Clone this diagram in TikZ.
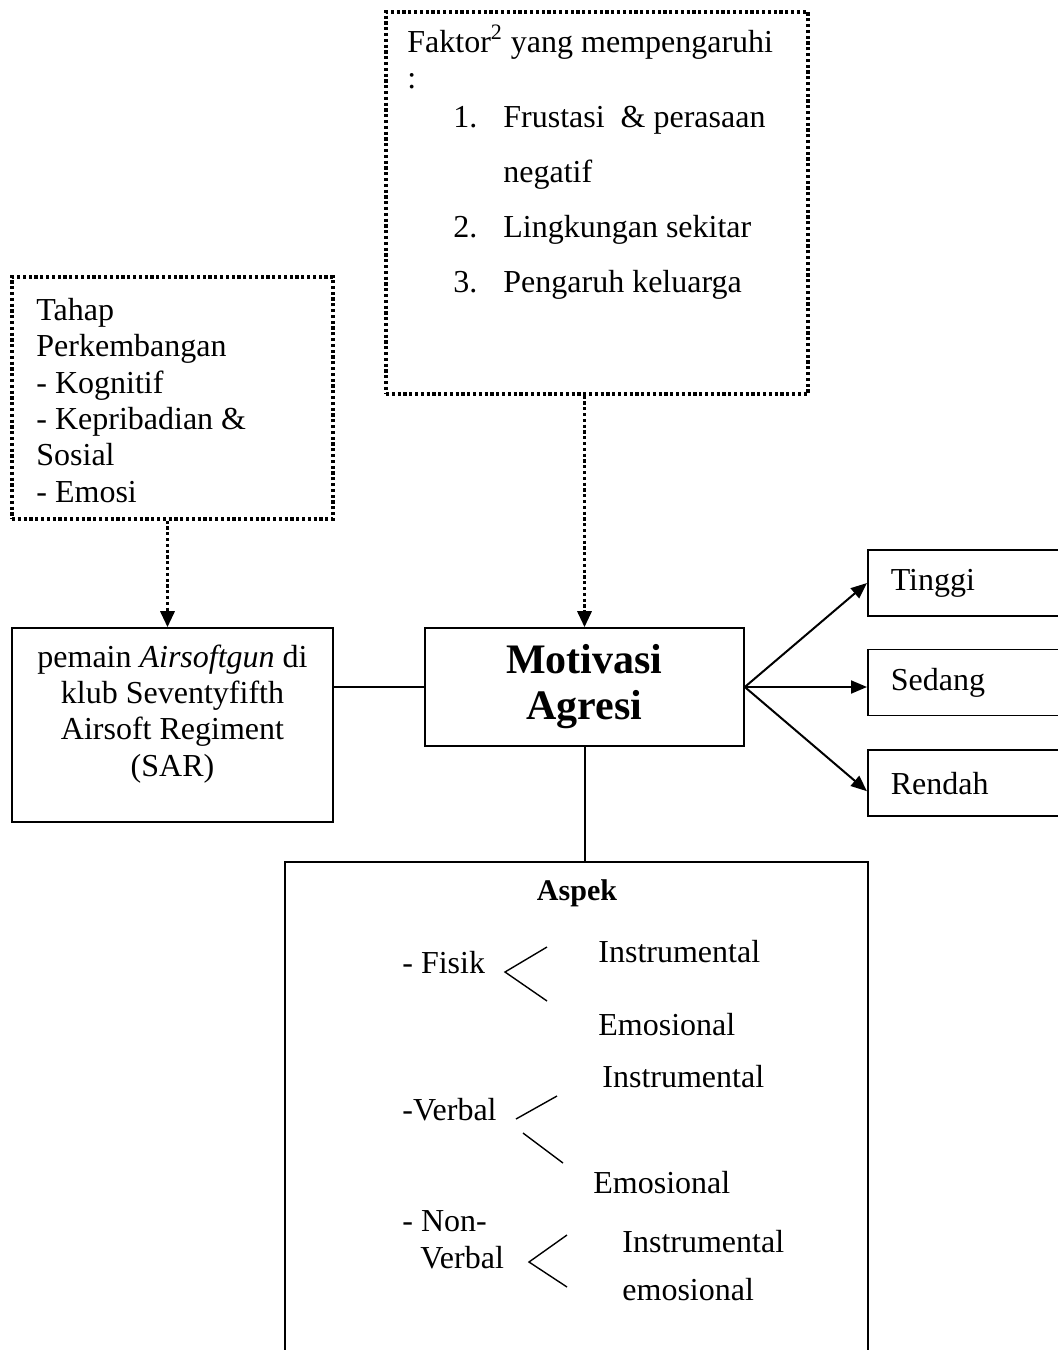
\documentclass[tikz,border=0pt]{standalone}
\usepackage{fontspec}
\setmainfont{Liberation Serif}
\usetikzlibrary{arrows.meta, positioning, calc}
\tikzset{
  boxline/.style={draw, line width=0.8pt, inner sep=0pt},
  dotbox/.style={draw, line width=1.6pt, dash pattern=on 1.6pt off 1.3pt, inner sep=0pt},
  txt/.style={font=\fontsize{16}{18.15}\selectfont, inner sep=0pt, align=left, anchor=base west},
  lvlbox/.style={boxline, anchor=west, text width=80pt, inner xsep=11.5pt, align=left,
    minimum height=33pt, font=\fontsize{16}{18.15}\selectfont},
  dotarrow/.style={-{Triangle[length=8pt, width=7pt]}, line width=1.6pt, dash pattern=on 1.6pt off 1.3pt},
  outarrow/.style={-{Triangle[length=8pt, width=6.5pt]}, line width=1pt},
  link/.style={line width=1pt},
  fork/.style={line width=0.7pt}
}
\begin{document}
\begin{tikzpicture}[x=0.5pt, y=-0.5pt]
  \useasboundingbox (0,0) rectangle (1057,1350);
  \node[dotbox, minimum width=211pt, minimum height=191pt] (faktor) at (597,203) {};
  \node[txt] (faktortxt) at (407,292) {Faktor\textsuperscript{\fontsize{11}{11}\selectfont 2} yang mempengaruhi\\:\\[1.3pt]
    \hspace*{23pt}\makebox[25pt][l]{1.}Frustasi\ \ \& perasaan\\[9.3pt]
    \hspace*{48pt}negatif\\[9.3pt]
    \hspace*{23pt}\makebox[25pt][l]{2.}Lingkungan sekitar\\[9.3pt]
    \hspace*{23pt}\makebox[25pt][l]{3.}Pengaruh keluarga};
  \node[dotbox, minimum width=160.5pt, minimum height=121pt] (tahap) at (172.5,398) {};
  \node[txt] (tahaptxt) at (36,502) {Tahap\\Perkembangan\\- Kognitif\\- Kepribadian \&\\Sosial\\- Emosi};
  \node[boxline, minimum width=160.5pt, minimum height=97pt] (pemain) at (172.5,725) {};
  \node[txt, align=center, anchor=base] (pemaintxt) at (172.5,776)
    {pemain \textit{Airsoftgun} di\\klub Seventyfifth\\Airsoft Regiment\\(SAR)};
  \node[boxline, minimum width=159.5pt, minimum height=59pt, align=center,
    font=\fontsize{21}{23}\selectfont\bfseries] (motivasi) at (584.5,687) {Motivasi\\Agresi};
  \node[lvlbox] (tinggi) at (867,583) {Tinggi};
  \node[lvlbox, below=16pt of tinggi] (sedang) {Sedang};
  \node[lvlbox, below=16.5pt of sedang] (rendah) {Rendah};
  \node[boxline, anchor=north, minimum width=291.5pt, minimum height=260pt] (aspek) at (576.5,861) {};
  \draw[dotarrow] ([xshift=-2.5pt]tahap.south) -- ([xshift=-2.5pt]pemain.north);
  \draw[dotarrow] (faktor.south -| motivasi.north) -- (motivasi.north);
  \draw[link] (motivasi.west -| pemain.east) -- (motivasi.west);
  \draw[link] (motivasi.south) -- (motivasi.south |- aspek.north);
  \draw[outarrow] (motivasi.east) -- (tinggi.west);
  \draw[outarrow] (motivasi.east) -- (motivasi.east -| sedang.west);
  \draw[outarrow] (motivasi.east) -- ([yshift=-4pt]rendah.west);
  % aspek
  \node[txt, anchor=base, font=\fontsize{15}{17}\selectfont\bfseries] (aspektxt) at (577,900) {Aspek};
  \node[txt] (fisik) at (402,973) {- Fisik};
  \node[txt] (fisikins) at (598,962) {Instrumental};
  \node[txt] (fisikemo) at (598,1035) {Emosional};
  \node[txt] (verbalins) at (602,1087) {Instrumental};
  \node[txt] (verbal) at (402,1120) {-Verbal};
  \node[txt] (verbalemo) at (593,1193) {Emosional};
  \node[txt] (nonverbal) at (402,1268) {- Non-\\\hspace*{9pt}Verbal};
  \node[txt] (nonins) at (622,1252) {Instrumental};
  \node[txt] (nonemo) at (622,1300) {emosional};
  \draw[fork] (547,947) -- (505,972) -- (547,1001);
  \draw[fork] (516,1119) -- (557,1096);
  \draw[fork] (523,1133) -- (563,1163);
  \draw[fork] (567,1235) -- (529,1262) -- (567,1287);
\end{tikzpicture}
\end{document}
